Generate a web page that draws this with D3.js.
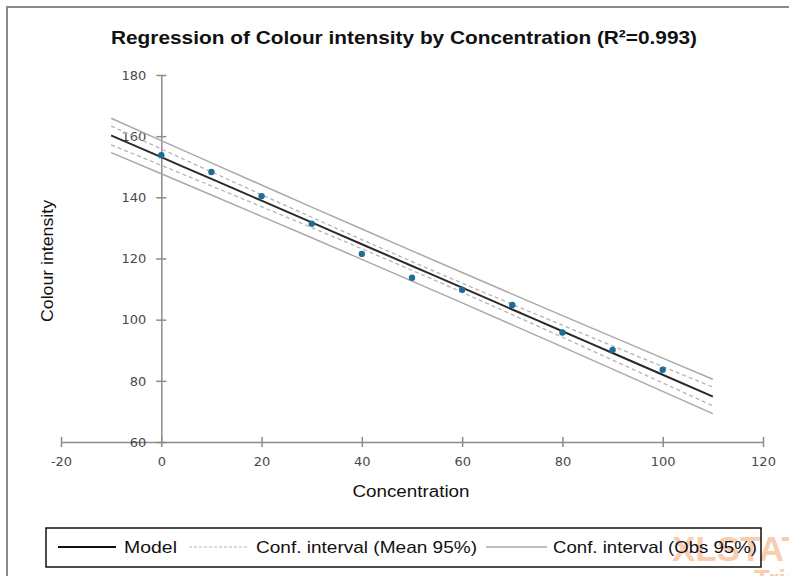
<!DOCTYPE html>
<html>
<head>
<meta charset="utf-8">
<script src="https://cdn.jsdelivr.net/npm/d3@7"></script>
<style>
  body { margin: 0; background: #fff; }
  svg text { font-family: "Liberation Sans", Arial, sans-serif; }
</style>
</head>
<body>
<div id="container"></div>
<script>
// observed points
var concentration = [0, 10, 20, 30, 40, 50, 60, 70, 80, 90, 100];
var colour = [153.8, 148.3, 140.4, 131.4, 121.5, 113.7, 109.8, 104.8, 95.8, 90.1, 83.6];

// model and interval curves, read at these x values
var curveX = [-10, 0, 10, 20, 30, 40, 50, 60, 70, 80, 90, 100, 110];
var model = [160.24, 153.13, 146.02, 138.90, 131.79, 124.67, 117.56, 110.45, 103.33, 96.22, 89.10, 81.99, 74.88];
var meanLow = [157.18, 150.46, 143.72, 136.94, 130.10, 123.17, 116.13, 108.95, 101.64, 94.26, 86.80, 79.32, 71.82];
var meanHigh = [163.30, 155.80, 148.32, 140.86, 133.48, 126.17, 118.99, 111.95, 105.02, 98.18, 91.40, 84.66, 77.94];
var obsLow = [154.61, 147.70, 140.76, 133.78, 126.77, 119.71, 112.62, 105.49, 98.31, 91.10, 83.84, 76.56, 69.25];
var obsHigh = [165.87, 158.56, 151.28, 144.02, 136.81, 129.63, 122.50, 115.41, 108.35, 101.34, 94.36, 87.42, 80.51];

var xTicks = [-20, 0, 20, 40, 60, 80, 100, 120];
var yTicks = [60, 80, 100, 120, 140, 160, 180];

var legendItems = ["Model", "Conf. interval (Mean 95%)", "Conf. interval (Obs 95%)"];

var w = 789, h = 576;

var svg = d3.select("#container")
	.append("svg")
	.attr("width", w)
	.attr("height", h);

// outer chart frame (only top/left visible)
svg.append("rect")
	.attr("x", 7).attr("y", 7)
	.attr("width", 800).attr("height", 600)
	.attr("fill", "none")
	.attr("stroke", "#8a8a8a")
	.attr("stroke-width", 2);

var xScale = d3.scaleLinear().domain([-20, 120]).range([61, 763]);
var yScale = d3.scaleLinear().domain([60, 180]).range([442, 75]);

// title
svg.append("text")
	.attr("x", 404).attr("y", 44)
	.attr("text-anchor", "middle")
	.attr("font-size", "19px")
	.attr("font-weight", "bold")
	.attr("fill", "#111")
	.attr("textLength", 586)
	.attr("lengthAdjust", "spacingAndGlyphs")
	.text("Regression of Colour intensity by Concentration (R\u00b2=0.993)");

// axes
var axisColor = "#8c8c8c";
var tickFont = "'DejaVu Sans', sans-serif";

var xAxis = svg.append("g")
	.attr("transform", "translate(0," + yScale(60) + ")")
	.call(d3.axisBottom(xScale).tickValues(xTicks).tickFormat(String).tickSize(0).tickPadding(0));
xAxis.select(".domain").attr("stroke", axisColor).attr("stroke-width", 1.5);
xAxis.selectAll(".tick text")
	.attr("y", 15)
	.attr("fill", "#4a4a4a")
	.style("font-family", tickFont)
	.attr("font-size", "13px");
xAxis.selectAll(".tick").append("line")
	.attr("y1", -5).attr("y2", 5)
	.attr("stroke", axisColor).attr("stroke-width", 1.5);

var yAxis = svg.append("g")
	.attr("transform", "translate(" + xScale(0) + ",0)")
	.call(d3.axisLeft(yScale).tickValues(yTicks).tickFormat(String).tickSize(0).tickPadding(0));
yAxis.select(".domain").attr("stroke", axisColor).attr("stroke-width", 1.5);
yAxis.selectAll(".tick text")
	.attr("x", -15)
	.attr("fill", "#4a4a4a")
	.style("font-family", tickFont)
	.attr("font-size", "13px");
yAxis.selectAll(".tick").append("line")
	.attr("x1", -5).attr("x2", 5)
	.attr("stroke", axisColor).attr("stroke-width", 1.5);

// axis titles
svg.append("text")
	.attr("x", 411).attr("y", 497)
	.attr("text-anchor", "middle")
	.attr("font-size", "16px")
	.attr("fill", "#111")
	.attr("textLength", 117)
	.attr("lengthAdjust", "spacingAndGlyphs")
	.text("Concentration");

svg.append("text")
	.attr("transform", "translate(53,261) rotate(-90)")
	.attr("text-anchor", "middle")
	.attr("font-size", "16px")
	.attr("fill", "#111")
	.attr("textLength", 122)
	.attr("lengthAdjust", "spacingAndGlyphs")
	.text("Colour intensity");

// curves
function makeLine(vals) {
	return d3.line()
		.x(function(d, i) { return xScale(curveX[i]); })
		.y(function(d) { return yScale(d); })
		.curve(d3.curveMonotoneX)(vals);
}

var plot = svg.append("g").attr("class", "plot");

[obsLow, obsHigh].forEach(function(arr) {
	plot.append("path").attr("d", makeLine(arr))
		.attr("fill", "none").attr("stroke", "#a9a9a9").attr("stroke-width", 1.5);
});
[meanLow, meanHigh].forEach(function(arr) {
	plot.append("path").attr("d", makeLine(arr))
		.attr("fill", "none").attr("stroke", "#b4b4b4").attr("stroke-width", 1.3)
		.attr("stroke-dasharray", "4,3");
});
plot.append("path").attr("d", makeLine(model))
	.attr("fill", "none").attr("stroke", "#2a2a2a").attr("stroke-width", 2);

plot.selectAll("circle")
	.data(colour)
	.enter()
	.append("circle")
	.attr("cx", function(d, i) { return xScale(concentration[i]); })
	.attr("cy", function(d) { return yScale(d); })
	.attr("r", 3.2)
	.attr("fill", "#1f6b9a");

// watermark (behind legend text)
svg.append("text")
	.attr("x", 672).attr("y", 561)
	.attr("font-size", "35px")
	.attr("font-weight", "bold")
	.attr("fill", "#f9cdb0")
	.text("XLSTAT");
svg.append("text")
	.attr("x", 754).attr("y", 588)
	.attr("font-size", "26px")
	.attr("font-weight", "bold")
	.attr("fill", "#f9cdb0")
	.text("Trial");

// legend
var legend = svg.append("g").attr("class", "legend");
legend.append("rect")
	.attr("x", 46).attr("y", 528)
	.attr("width", 715).attr("height", 39)
	.attr("fill", "none")
	.attr("stroke", "#111")
	.attr("stroke-width", 1.5);

var legX = [58, 189, 486];
var legStyles = [
	{ stroke: "#111", width: 1.8, dash: null, len: 58, textLen: 53 },
	{ stroke: "#b4b4b4", width: 1.2, dash: "3,2", len: 58, textLen: 221 },
	{ stroke: "#a9a9a9", width: 1.5, dash: null, len: 61, textLen: 204 }
];
var legTextX = [124, 256, 553];
legendItems.forEach(function(name, i) {
	var s = legStyles[i];
	legend.append("line")
		.attr("x1", legX[i]).attr("x2", legX[i] + s.len)
		.attr("y1", 547).attr("y2", 547)
		.attr("stroke", s.stroke)
		.attr("stroke-width", s.width)
		.attr("stroke-dasharray", s.dash);
	legend.append("text")
		.attr("x", legTextX[i]).attr("y", 553)
		.attr("font-size", "17px")
		.attr("fill", "#111")
		.attr("textLength", s.textLen)
		.attr("lengthAdjust", "spacingAndGlyphs")
		.text(name);
});
</script>
</body>
</html>
